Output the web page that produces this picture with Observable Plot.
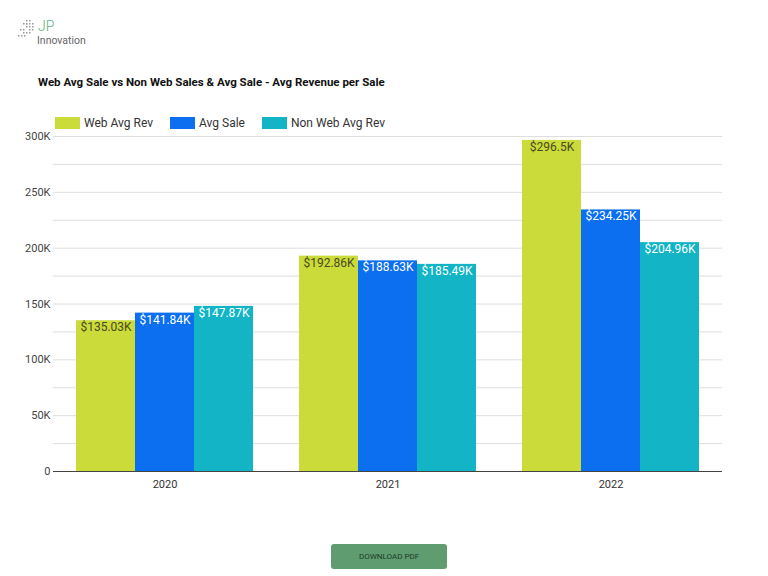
<!DOCTYPE html>
<html><head><meta charset="utf-8">
<script src="https://cdn.jsdelivr.net/npm/d3@7"></script>
<script src="https://cdn.jsdelivr.net/npm/@observablehq/plot@0.6"></script>
<style>
body{margin:0;background:#fff;font-family:Roboto,"Noto Sans",sans-serif;}
#wrap{position:relative;width:768px;height:576px;overflow:hidden;}
.abs{position:absolute;}
#title{left:38px;top:75px;font-size:11.5px;font-weight:bold;color:#111;white-space:nowrap;}
#legend{left:55px;top:116px;font-size:12px;color:#333;display:flex;align-items:center;}
#legend .it{display:flex;align-items:center;margin-right:17px;}
#legend .sw{width:25px;height:12px;margin-right:4px;}
#btn{left:331px;top:544px;width:116px;height:25px;background:#5f9d70;border-radius:3px;color:#1e3b28;font-size:8px;display:flex;align-items:center;justify-content:center;}
#logo{left:18px;top:18px;}
</style></head>
<body><div id="wrap">
<div id="logo" class="abs">
<svg width="80" height="30">
<g fill="#999">
<rect x="8" y="2" width="1.5" height="1.5"/><rect x="11" y="2" width="1.5" height="1.5"/>
<rect x="5" y="5" width="1.5" height="1.5"/><rect x="8" y="5" width="1.5" height="1.5"/><rect x="11" y="5" width="1.5" height="1.5"/><rect x="14" y="5" width="1.5" height="1.5"/>
<rect x="8" y="8" width="1.5" height="1.5"/><rect x="11" y="8" width="1.5" height="1.5"/><rect x="14" y="8" width="1.5" height="1.5"/>
<rect x="2" y="11" width="1.5" height="1.5"/><rect x="5" y="11" width="1.5" height="1.5"/><rect x="11" y="11" width="1.5" height="1.5"/><rect x="14" y="11" width="1.5" height="1.5"/>
<rect x="5" y="14" width="1.5" height="1.5"/><rect x="8" y="14" width="1.5" height="1.5"/><rect x="11" y="14" width="1.5" height="1.5"/>
<rect x="0" y="17" width="1.5" height="1.5"/><rect x="3" y="17" width="1.5" height="1.5"/><rect x="6" y="17" width="1.5" height="1.5"/>
</g>
<text x="20" y="13" font-size="14" fill="#5fb07a" font-family="Roboto" font-weight="300">JP</text>
<text x="19" y="25.5" font-size="10.5" fill="#666" font-family="Roboto">Innovation</text>
</svg>
</div>
<div id="title" class="abs">Web Avg Sale vs Non Web Sales &amp; Avg Sale - Avg Revenue per Sale</div>
<div id="legend" class="abs"></div>
<div id="bg" class="abs" style="left:0;top:126px"></div>
<div id="fg" class="abs" style="left:0;top:126px"></div>
<div id="btn" class="abs">DOWNLOAD PDF</div>
</div>
<script>
const years = ["2020", "2021", "2022"];
const seriesNames = ["Web Avg Rev", "Avg Sale", "Non Web Avg Rev"];
const seriesColors = ["#cbdb3a", "#0b6ff0", "#12b4c6"];
const labelColors = ["#4a4a22", "#ffffff", "#ffffff"];
const webAvgRev = [135030, 192860, 296500];
const avgSale = [141840, 188630, 234250];
const nonWebAvgRev = [147870, 185490, 204960];
const yTicks = [0, 50000, 100000, 150000, 200000, 250000, 300000];
const gridTicks = [25000, 50000, 75000, 100000, 125000, 150000, 175000, 200000, 225000, 250000, 275000, 300000];

const values = [webAvgRev, avgSale, nonWebAvgRev];
const data = [];
years.forEach((yr, i) => seriesNames.forEach((s, j) => data.push({year: yr, series: s, value: values[j][i]})));

const fmt = v => "$" + (+(v / 1000).toFixed(2)) + "K";

// legend
const leg = document.getElementById("legend");
seriesNames.forEach((s, i) => {
  const it = document.createElement("div"); it.className = "it";
  it.innerHTML = `<div class="sw" style="background:${seriesColors[i]}"></div><span>${s}</span>`;
  leg.appendChild(it);
});

const W = 768, H = 380, mt = 10, mb = 35, ml = 53, mr = 46;

const bg = Plot.plot({
  width: W, height: H, marginTop: mt, marginBottom: mb, marginLeft: ml, marginRight: mr,
  style: {fontFamily: "Roboto, sans-serif", fontSize: "11px", color: "#444", background: "transparent"},
  y: {domain: [0, 300000]},
  x: {domain: [0, 1], axis: null},
  marks: [
    Plot.ruleY(gridTicks, {stroke: "#dedede", strokeWidth: 1}),
    Plot.axisY({ticks: yTicks, tickSize: 0, tickPadding: 3, tickFormat: d => d === 0 ? "0" : (d / 1000) + "K", label: null}),
  ]
});
document.getElementById("bg").appendChild(bg);

const fg = Plot.plot({
  width: W, height: H, marginTop: mt, marginBottom: mb, marginLeft: ml, marginRight: mr,
  style: {fontFamily: "Roboto, sans-serif", fontSize: "11px", color: "#333", background: "transparent"},
  y: {domain: [0, 300000], axis: null},
  fx: {domain: years, paddingInner: 0.206, paddingOuter: 0.103, label: null, axis: "bottom", tickSize: 0, tickPadding: 9},
  x: {domain: seriesNames, padding: 0, axis: null},
  color: {domain: seriesNames, range: seriesColors},
  marks: [
    Plot.barY(data, {fx: "year", x: "series", y: "value", fill: "series", inset: 0}),
    Plot.text(data, {fx: "year", x: "series", y: "value", text: d => fmt(d.value), lineAnchor: "top", dy: 2, fontSize: 12,
      fill: d => labelColors[seriesNames.indexOf(d.series)]}),
  ]
});
document.getElementById("fg").appendChild(fg);

// zero baseline across full width
const base = Plot.plot({
  width: W, height: H, marginTop: mt, marginBottom: mb, marginLeft: ml, marginRight: mr,
  style: {background: "transparent"},
  y: {domain: [0, 300000], axis: null},
  marks: [Plot.ruleY([0], {stroke: "#444", strokeWidth: 1.2})]
});
const bd = document.createElement("div"); bd.className = "abs"; bd.style.left = "0"; bd.style.top = "126px";
bd.appendChild(base);
document.getElementById("wrap").appendChild(bd);
</script>
</body></html>
